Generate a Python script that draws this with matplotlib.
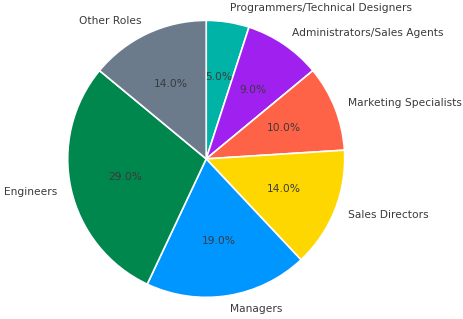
import matplotlib
matplotlib.use("Agg")
import matplotlib.pyplot as plt

roles = ["Programmers/Technical Designers", "Administrators/Sales Agents",
         "Marketing Specialists", "Sales Directors", "Managers",
         "Engineers", "Other Roles"]
shares = [5, 9, 10, 14, 19, 29, 14]
colors = ["#00B3A7", "#A020F0", "#FF6347", "#FFD700", "#0096FF",
          "#00874D", "#6B7B8C"]

fig = plt.figure(figsize=(4.64, 3.19), dpi=100)
ax = fig.add_axes([0.0862, -0.0190, 0.7164, 1.0420])

ax.pie(shares, labels=roles, colors=colors, autopct="%1.1f%%",
       startangle=90, counterclock=False, labeldistance=1.1,
       wedgeprops=dict(edgecolor="white", linewidth=1.2),
       textprops=dict(fontsize=7.7, color="#3a3a3a"))
ax.set_xlim(-1.2, 1.2)
ax.set_ylim(-1.2, 1.2)
ax.set_aspect("equal")

fig.savefig("out.png", dpi=100)
